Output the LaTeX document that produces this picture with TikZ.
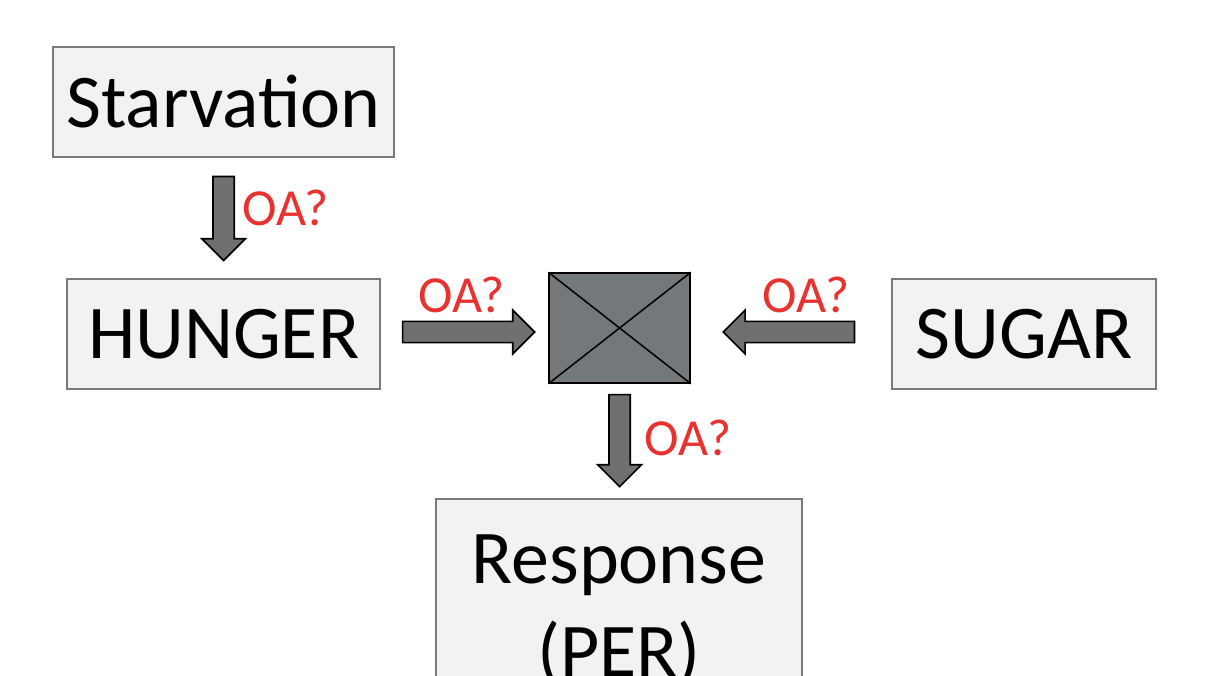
\documentclass[tikz,border=0pt]{standalone}
\usepackage{fontspec}
\setmainfont{Carlito}
\usetikzlibrary{shapes.arrows,calc}
\definecolor{boxgray}{HTML}{F2F2F2}
\definecolor{arrowgray}{HTML}{6E7072}
\definecolor{gategray}{HTML}{75787B}
\definecolor{oared}{HTML}{E8322F}
\tikzset{box/.style={draw=gray!95!black, line width=1pt, fill=boxgray, inner sep=0pt,
         minimum height=2.75cm, font=\fontsize{54}{66}\selectfont},
         fat/.style={single arrow, draw=black, line width=1.2pt, fill=arrowgray,
         inner xsep=0pt, inner ysep=0.245cm, minimum width=1.05cm,
         single arrow head extend=0.28cm, single arrow tip angle=90, anchor=tail},
         oa/.style={text=oared, font=\fontsize{37}{40}\selectfont, anchor=base}}

\begin{document}
\begin{tikzpicture}
  \clip (0,0) rectangle (30.2,-16.9);

  % inputs, gate and output
  \node[box, minimum width=8.525cm] (starv) at (5.59,-2.55) {Starvation};
  \node[box, minimum width=7.825cm] (hunger) at (5.59,-8.35) {HUNGER};
  \node[box, minimum width=6.6cm] (sugar) at (25.6,-8.35) {SUGAR};
  \node[draw=black, line width=1.1pt, fill=gategray, minimum width=3.525cm,
        minimum height=2.75cm] (gate) at (15.49,-8.2) {};
  \draw[line width=1.1pt] (gate.north west) -- (gate.south east) (gate.south west) -- (gate.north east);
  \node[box, minimum width=9.15cm, minimum height=5.6cm, align=center] (resp) at (15.475,-15.275) {Response\\(PER)};

  % fat arrows, each starting a little off its source box
  \node[fat, rotate=-90, minimum height=2.1cm] (a1) at ($(starv.south)+(0,-0.45)$) {};
  \node[fat, minimum height=3.3cm] (a2) at ($(hunger.east)+(0.525,0.05)$) {};
  \node[fat, rotate=180, minimum height=3.28cm] (a3) at ($(sugar.west)+(-0.9,0.05)$) {};
  \node[fat, rotate=-90, minimum height=2.3cm] (a4) at ($(gate.south)+(0,-0.25)$) {};

  \node[oa] (l1) at (7.14,-5.65) {OA?};
  \node[oa] (l2) at (11.54,-7.825) {OA?};
  \node[oa] (l3) at (20.15,-7.825) {OA?};
  \node[oa] (l4) at (17.2,-11.4) {OA?};
\end{tikzpicture}
\end{document}
